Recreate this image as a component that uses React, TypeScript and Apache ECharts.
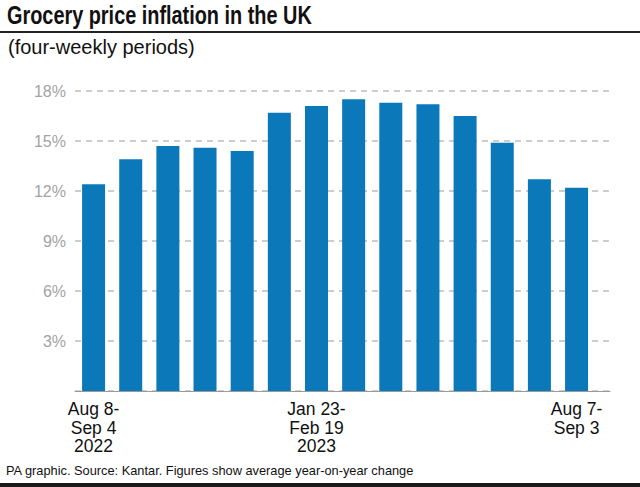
import React, { useEffect, useRef } from "react";
import * as echarts from "echarts";

const periods = [
  "Aug 8-\nSep 4\n2022",
  "Sep 5-\nOct 2\n2022",
  "Oct 3-\nOct 30\n2022",
  "Oct 31-\nNov 27\n2022",
  "Nov 28-\nDec 25\n2022",
  "Dec 26-\nJan 22\n2023",
  "Jan 23-\nFeb 19\n2023",
  "Feb 20-\nMar 19\n2023",
  "Mar 20-\nApr 16\n2023",
  "Apr 17-\nMay 14\n2023",
  "May 15-\nJun 11\n2023",
  "Jun 12-\nJul 9\n2023",
  "Jul 10-\nAug 6\n2023",
  "Aug 7-\nSep 3",
];
const inflation = [12.4, 13.9, 14.7, 14.6, 14.4, 16.7, 17.1, 17.5, 17.3, 17.2, 16.5, 14.9, 12.7, 12.2];
const shownLabelIdx = [0, 6, 13];
const yTicks = [0, 3, 6, 9, 12, 15, 18];

const titleText = "Grocery price inflation in the UK";
const subtitleText = "(four-weekly periods)";
const footerText = "PA graphic. Source: Kantar. Figures show average year-on-year change";

export default function App() {
  const ref = useRef<HTMLDivElement>(null);
  useEffect(() => {
    if (!ref.current) return;
    const chart = echarts.init(ref.current, null, { renderer: "svg" });
    const font = "'Liberation Sans', Arial, sans-serif";
    chart.setOption({
      animation: false,
      textStyle: { fontFamily: font },
      grid: { left: 75, right: 30, top: 91, bottom: 96, containLabel: false },
      xAxis: {
        type: "value",
        min: -0.5,
        max: 13.9,
        splitLine: { show: false },
        axisLine: { show: true, onZero: false, lineStyle: { color: "#9a9a9a", width: 1 } },
        axisTick: { show: false },
        axisLabel: {
          customValues: shownLabelIdx,
          formatter: (v: number) => periods[Math.round(v)] ?? "",
          color: "#111",
          fontSize: 17.5,
          lineHeight: 18.5,
          margin: 9,
        },
      },
      yAxis: {
        type: "value",
        min: yTicks[0],
        max: yTicks[yTicks.length - 1],
        interval: 3,
        axisLine: { show: false },
        axisTick: { show: false },
        axisLabel: {
          formatter: (v: number) => (v === 0 ? "" : v + "%"),
          color: "#a3a3a3",
          fontSize: 16,
          margin: 9,
        },
        splitLine: {
          show: true,
          lineStyle: { color: "#bdbdbd", type: [6, 5], width: 1.5 },
        },
      },
      series: [
        {
          type: "bar",
          data: inflation.map((v, i) => [i, v]),
          barWidth: 23,
          itemStyle: { color: "#0a78b9" },
        },
      ],
      graphic: [
        {
          type: "text",
          x: 7,
          y: 2,
          scaleX: 0.765,
          style: {
            text: titleText,
            font: `bold 26px ${font}`,
            fill: "#111",
            verticalAlign: "top",
            align: "left",
          },
        },
        {
          type: "rect",
          shape: { x: 0, y: 31, width: 640, height: 2 },
          style: { fill: "#222" },
        },
        {
          type: "text",
          left: 8,
          top: 37,
          style: { text: subtitleText, font: `20px ${font}`, fill: "#111" },
        },
        {
          type: "text",
          left: 6,
          top: 464,
          style: { text: footerText, font: `12.8px ${font}`, fill: "#111" },
        },
        {
          type: "rect",
          shape: { x: 0, y: 483, width: 640, height: 4 },
          style: { fill: "#1a1a1a" },
        },
      ],
    });
    return () => chart.dispose();
  }, []);
  return (
    <div
      ref={ref}
      style={{ position: "fixed", left: 0, top: 0, width: 640, height: 487, background: "#fff" }}
    />
  );
}
